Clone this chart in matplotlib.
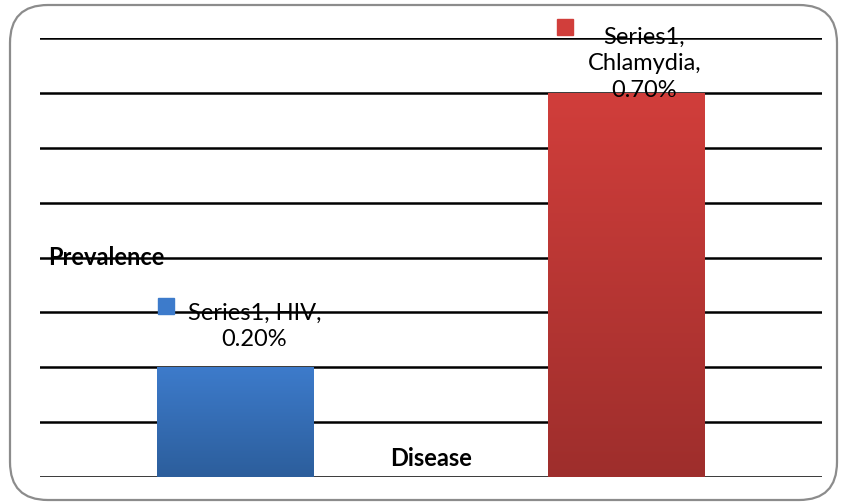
import numpy as np
import matplotlib.pyplot as plt
from matplotlib.patches import FancyBboxPatch
from matplotlib.transforms import Affine2D
from matplotlib.colors import to_rgb

# 데이터
diseases = ["HIV", "Chlamydia"]
prevalence = [0.20, 0.70]  # %
series_name = "Series1"
bar_top_colors = ["#3D7BCB", "#D13E3B"]
bar_bottom_colors = ["#2C5E9C", "#9E2E2C"]

plt.rcParams['font.family'] = ['Lato', 'DejaVu Sans']

fig = plt.figure(figsize=(8.43, 5.03), dpi=100)
ax = fig.add_axes([40 / 843, 26 / 503, 782 / 843, 439 / 503])

# 외곽 둥근 테두리
border = FancyBboxPatch((10 / 843, 3 / 503), 827 / 843, 495 / 503,
                        boxstyle="round,pad=0,rounding_size=0.045",
                        transform=fig.transFigure, fill=False,
                        edgecolor='#8c8c8c', linewidth=1.6, zorder=0,
                        mutation_aspect=843 / 503)
fig.patches.append(border)

x = np.arange(len(diseases))
bars = ax.bar(x, prevalence, width=0.4, color=bar_top_colors, zorder=3)

# 막대 그라데이션
grad = np.linspace(0, 1, 256).reshape(-1, 1)
for bar, c_top, c_bot in zip(bars, bar_top_colors, bar_bottom_colors):
    t = np.array(to_rgb(c_top))
    b = np.array(to_rgb(c_bot))
    img = b[None, None, :] * (1 - grad[:, :, None]) + t[None, None, :] * grad[:, :, None]
    x0, y0 = bar.get_x(), bar.get_y()
    im = ax.imshow(img, extent=[x0, x0 + bar.get_width(), y0, y0 + bar.get_height()],
                   origin='lower', aspect='auto', zorder=4)
    im.set_clip_path(bar)

ax.set_xlim(-0.5, 1.5)
ax.set_ylim(0, 0.8)
ax.set_yticks(np.arange(0, 0.81, 0.1))
ax.yaxis.grid(True, color='black', linewidth=1.8, zorder=1)
ax.set_axisbelow(True)
ax.tick_params(left=False, bottom=False, labelleft=False, labelbottom=False)
for s in ax.spines.values():
    s.set_visible(False)

# 데이터 레이블 (범례 키 포함)
label_text = [f"{series_name}, {diseases[0]},\n{prevalence[0]:.2f}%",
              f"{series_name},\n{diseases[1]},\n{prevalence[1]:.2f}%"]
text_off = [(19, 41), (18, 29)]
marker_off = [(-70, 61), (-62, 66)]
for i, (lbl, c) in enumerate(zip(label_text, bar_top_colors)):
    ax.annotate(lbl, (x[i], prevalence[i]), xytext=text_off[i], textcoords='offset pixels',
                ha='center', va='center', fontsize=17, linespacing=1.34, zorder=6,
                annotation_clip=False)
    mx, my = marker_off[i]
    ax.plot([x[i]], [prevalence[i]], marker='s', markersize=11, color=c, zorder=6,
            clip_on=False, transform=ax.transData + Affine2D().translate(mx, my))

ax.text(0.010, 0.5, "Prevalence", transform=ax.transAxes, fontsize=17, fontweight='bold',
        ha='left', va='center', zorder=6)
ax.text(0.5, 0.043, "Disease", transform=ax.transAxes, fontsize=17, fontweight='bold',
        ha='center', va='center', zorder=6)

plt.savefig("out.png", dpi=100)
